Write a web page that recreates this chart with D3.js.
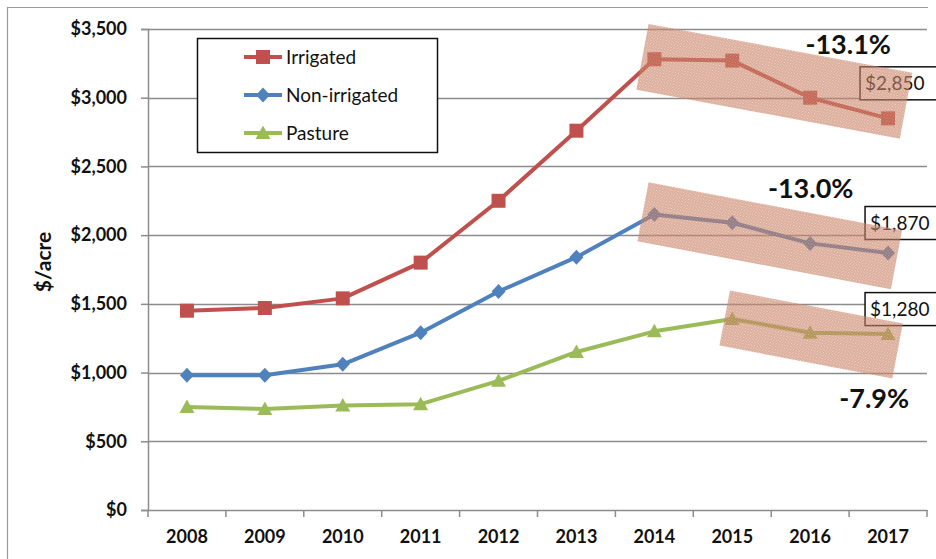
<!DOCTYPE html>
<html>
<head>
<meta charset="utf-8">
<script src="https://cdn.jsdelivr.net/npm/d3@7"></script>
<style>
  html, body { margin: 0; padding: 0; background: #fff; }
  svg { display: block; }
</style>
</head>
<body>
<svg id="chart" width="936" height="559"></svg>
<script>
// Farmland values, $ per acre
const years = ["2008", "2009", "2010", "2011", "2012", "2013", "2014", "2015", "2016", "2017"];
const irrigated = [1450, 1470, 1540, 1800, 2250, 2760, 3280, 3270, 3000, 2850];
const nonIrrigated = [980, 980, 1060, 1290, 1590, 1840, 2150, 2090, 1940, 1870];
const pasture = [750, 735, 760, 770, 940, 1150, 1300, 1390, 1290, 1280];
const yTicks = [0, 500, 1000, 1500, 2000, 2500, 3000, 3500];
const seriesNames = ["Irrigated", "Non-irrigated", "Pasture"];

const series = [
  { name: seriesNames[0], values: irrigated, color: "#c0504d", marker: "square" },
  { name: seriesNames[1], values: nonIrrigated, color: "#4f81bd", marker: "diamond" },
  { name: seriesNames[2], values: pasture, color: "#9bbb59", marker: "triangle" }
];

// Highlighted decline periods: series index, start/end year
const highlights = [
  { s: 0, from: "2014", to: "2017", len: 268, thick: 67, angle: 10.5, dx: 3, dy: -7.5,
    pctDx: 74, pctDy: -27, lblDx: -23, lblDy: -35 },
  { s: 1, from: "2014", to: "2017", len: 258, thick: 60, angle: 10.7, dx: -1.5, dy: 2,
    pctDx: 41, pctDy: -38, lblDx: -18, lblDy: -30 },
  { s: 2, from: "2015", to: "2017", len: 176, thick: 56, angle: 10.8, dx: 1, dy: 8,
    pctDx: 63, pctDy: 73, lblDx: -18, lblDy: -25 }
];

const FONT = "Lato, 'Open Sans', 'DejaVu Sans', sans-serif";
const svg = d3.select("#chart");
const W = 936, H = 559;
const plot = { left: 148, right: 927, top: 29, bottom: 510 };

const x = d3.scaleBand().domain(years).range([plot.left, plot.right]);
const y = d3.scaleLinear().domain([0, 3500]).range([plot.bottom, plot.top]);
const cx = yr => x(yr) + x.bandwidth() / 2;

// Pattern for the textured highlight boxes
const defs = svg.append("defs");
const pat = defs.append("pattern")
  .attr("id", "hatch").attr("width", 3).attr("height", 3)
  .attr("patternUnits", "userSpaceOnUse");
pat.append("rect").attr("width", 3).attr("height", 3).attr("fill", "rgb(194,114,84)");
pat.append("rect").attr("x", 0).attr("y", 0).attr("width", 1).attr("height", 1).attr("fill", "rgb(235,200,185)");
pat.append("rect").attr("x", 1.5).attr("y", 1.5).attr("width", 1).attr("height", 1).attr("fill", "rgb(235,200,185)");

// Outer frame (top and left edges visible)
svg.append("path")
  .attr("d", `M7.5,${H} V7.5 H928`)
  .attr("fill", "none").attr("stroke", "#9a9a9a").attr("stroke-width", 1.2);

// Gridlines
svg.append("g").selectAll("line")
  .data(yTicks.filter(t => t > 0))
  .join("line")
  .attr("x1", plot.left).attr("x2", plot.right)
  .attr("y1", d => Math.round(y(d)) + 0.5).attr("y2", d => Math.round(y(d)) + 0.5)
  .attr("stroke", "#8c8c8c").attr("stroke-width", 1.5);

// Y axis
const yAxis = svg.append("g")
  .attr("transform", `translate(${plot.left},0)`)
  .call(d3.axisLeft(y).tickValues(yTicks).tickSize(7).tickPadding(14)
    .tickFormat(d => "$" + d3.format(",")(d)));
yAxis.select(".domain").attr("stroke", "#8c8c8c").attr("stroke-width", 1.5);
yAxis.selectAll(".tick line").attr("stroke", "#8c8c8c").attr("stroke-width", 1.5);
yAxis.selectAll(".tick text")
  .attr("font-family", FONT).attr("font-size", 18).attr("font-weight", "bold")
  .attr("fill", "#111");

// X axis
const xAxis = svg.append("g")
  .attr("transform", `translate(0,${plot.bottom})`)
  .call(d3.axisBottom(x).tickSize(0).tickPadding(20));
xAxis.select(".domain").attr("stroke", "#8c8c8c").attr("stroke-width", 1.5);
xAxis.selectAll(".tick text")
  .attr("font-family", FONT).attr("font-size", 18).attr("font-weight", "bold")
  .attr("fill", "#111");
// tick marks between categories
xAxis.append("g").selectAll("line")
  .data(years.concat(["end"]))
  .join("line")
  .attr("x1", (d, i) => plot.left + i * x.bandwidth())
  .attr("x2", (d, i) => plot.left + i * x.bandwidth())
  .attr("y1", 0).attr("y2", 7)
  .attr("stroke", "#8c8c8c").attr("stroke-width", 1.5);

// Y axis title
svg.append("text")
  .attr("transform", "translate(51,262) rotate(-90)")
  .attr("text-anchor", "middle")
  .attr("font-family", FONT).attr("font-size", 21).attr("font-weight", "bold")
  .attr("fill", "#111")
  .text("$/acre");

// Marker shapes
function markerPath(type) {
  if (type === "square") return d3.symbol().type(d3.symbolSquare).size(196)();
  if (type === "diamond") return "M0,-7.5 L7,0 L0,7.5 L-7,0 Z";
  return "M0,-7.5 L7.5,6 L-7.5,6 Z";
}

const line = d3.line().x((d, i) => cx(years[i])).y(d => y(d));

// Series lines and markers
const sg = svg.append("g").selectAll("g").data(series).join("g");
sg.append("path")
  .attr("d", d => line(d.values))
  .attr("fill", "none")
  .attr("stroke", d => d.color)
  .attr("stroke-width", 4)
  .attr("stroke-linejoin", "round");
sg.each(function (s) {
  d3.select(this).selectAll("path.m")
    .data(s.values)
    .join("path")
    .attr("class", "m")
    .attr("d", markerPath(s.marker))
    .attr("transform", (d, i) => `translate(${cx(years[i])},${y(d)})`)
    .attr("fill", s.color);
});

// End value labels (drawn below highlight boxes)
highlights.forEach(h => {
  const v = series[h.s].values[years.indexOf(h.to)];
  const px = cx(h.to) + h.lblDx, py = y(v) + h.lblDy;
  const g = svg.append("g");
  g.append("rect")
    .attr("x", px - 5).attr("y", py - 16.5)
    .attr("width", 90).attr("height", 33)
    .attr("fill", "#fff").attr("stroke", "#111").attr("stroke-width", 1.5);
  g.append("text")
    .attr("x", px).attr("y", py + 6.5)
    .attr("font-family", FONT).attr("font-size", 19)
    .attr("fill", "#111")
    .text("$" + d3.format(",")(v));
});

// Highlight boxes with percent change
highlights.forEach(h => {
  const vals = series[h.s].values;
  const i0 = years.indexOf(h.from), i1 = years.indexOf(h.to);
  const mx = (cx(h.from) + cx(h.to)) / 2 + h.dx;
  const my = y((vals[i0] + vals[i1]) / 2) + h.dy;
  svg.append("rect")
    .attr("x", -h.len / 2).attr("y", -h.thick / 2)
    .attr("width", h.len).attr("height", h.thick)
    .attr("transform", `translate(${mx},${my}) rotate(${h.angle})`)
    .attr("fill", "url(#hatch)")
    .attr("opacity", 0.6);
  const pct = (vals[i1] - vals[i0]) / vals[i0];
  svg.append("text")
    .attr("x", mx + h.pctDx).attr("y", my + h.pctDy)
    .attr("text-anchor", "middle")
    .attr("font-family", FONT).attr("font-size", 27).attr("font-weight", "bold")
    .attr("fill", "#111")
    .text((pct * 100).toFixed(1) + "%");
});

// Legend
const leg = svg.append("g");
leg.append("rect")
  .attr("x", 197.5).attr("y", 38.5).attr("width", 240).attr("height", 114)
  .attr("fill", "#fff").attr("stroke", "#111").attr("stroke-width", 1.5);
series.forEach((s, i) => {
  const ly = 57 + i * 38;
  leg.append("line")
    .attr("x1", 244).attr("x2", 282).attr("y1", ly).attr("y2", ly)
    .attr("stroke", s.color).attr("stroke-width", 4);
  leg.append("path")
    .attr("d", markerPath(s.marker))
    .attr("transform", `translate(263,${ly})`)
    .attr("fill", s.color);
  leg.append("text")
    .attr("x", 286).attr("y", ly + 6.5)
    .attr("font-family", FONT).attr("font-size", 19)
    .attr("fill", "#111")
    .text(s.name);
});
</script>
</body>
</html>
